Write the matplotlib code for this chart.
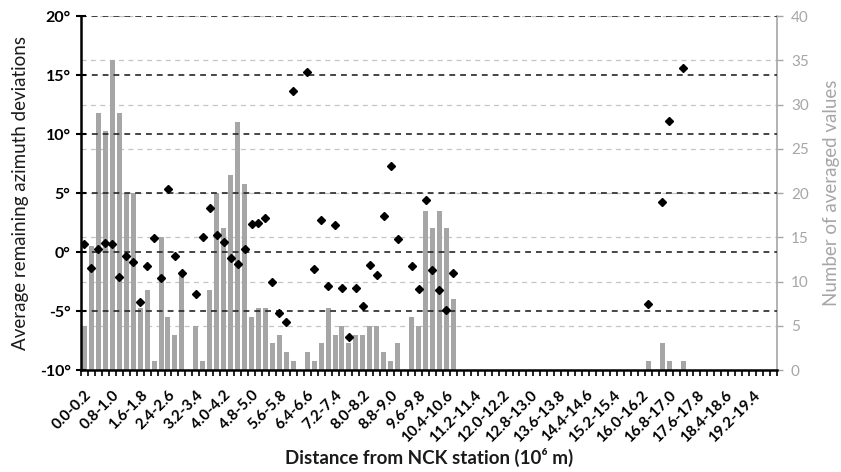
import numpy as np
import matplotlib
matplotlib.use("Agg")
import matplotlib.pyplot as plt

plt.rcParams["font.family"] = ["Lato", "DejaVu Sans"]

nan = np.nan

# 100 distance bins of 0.2 x 10^6 m, 0.0-0.2 ... 19.8-20.0
n_bins = 100

# number of averaged values per bin (right axis)
counts = [
    5, 14, 29, 27, 35, 29, 20, 20, 7, 9,
    1, 15, 6, 4, 11, 0, 5, 1, 9, 20,
    16, 22, 28, 21, 6, 7, 7, 3, 4, 2,
    1, 0, 2, 1, 3, 7, 4, 5, 3, 4,
    4, 5, 5, 2, 1, 3, 0, 6, 5, 18,
    16, 18, 16, 8, 0, 0, 0, 0, 0, 0,
    0, 0, 0, 0, 0, 0, 0, 0, 0, 0,
    0, 0, 0, 0, 0, 0, 0, 0, 0, 0,
    0, 1, 0, 3, 1, 0, 1, 0, 0, 0,
    0, 0, 0, 0, 0, 0, 0, 0, 0, 0,
]

# average remaining azimuth deviation per bin, degrees (left axis)
deviations = [
    0.65, -1.38, 0.23, 0.79, 0.65, -2.14, -0.31, -0.85, -4.24, -1.21,
    1.21, -2.23, 5.31, -0.37, -1.78, nan, -3.56, 1.30, 3.70, 1.41,
    0.85, -0.54, -1.05, 0.28, 2.40, 2.49, 2.85, -2.51, -5.14, -5.90,
    13.64, nan, 15.25, -1.47, 2.68, -2.88, 2.32, -3.08, -7.23, -3.08,
    -4.58, -1.13, -1.95, 3.08, 7.29, 1.10, nan, -1.21, -3.11, 4.38,
    -1.50, -3.22, -4.92, -1.81, nan, nan, nan, nan, nan, nan,
    nan, nan, nan, nan, nan, nan, nan, nan, nan, nan,
    nan, nan, nan, nan, nan, nan, nan, nan, nan, nan,
    nan, -4.44, nan, 4.26, 11.10, nan, 15.59, nan, nan, nan,
    nan, nan, nan, nan, nan, nan, nan, nan, nan, nan,
]

# labels shown on every 4th bin
tick_labels = [
    "0.0-0.2", "0.8-1.0", "1.6-1.8", "2.4-2.6", "3.2-3.4", "4.0-4.2",
    "4.8-5.0", "5.6-5.8", "6.4-6.6", "7.2-7.4", "8.0-8.2", "8.8-9.0",
    "9.6-9.8", "10.4-10.6", "11.2-11.4", "12.0-12.2", "12.8-13.0",
    "13.6-13.8", "14.4-14.6", "15.2-15.4", "16.0-16.2", "16.8-17.0",
    "17.6-17.8", "18.4-18.6", "19.2-19.4",
]

left_ticks = [-10, -5, 0, 5, 10, 15, 20]
right_ticks = [0, 5, 10, 15, 20, 25, 30, 35, 40]

x = np.arange(n_bins)

fig = plt.figure(figsize=(8.41, 4.72), dpi=100)
ax = fig.add_axes([0.0963, 0.2161, 0.8276, 0.75])
ax2 = ax.twinx()

# counts as grey bars on the secondary axis
for v in right_ticks[1:]:
    ax2.axhline(v, color="#c4c4c4", lw=0.9, ls=(0, (4, 3.5)), zorder=1)
ax2.bar(x, counts, width=0.72, color="#a6a6a6", zorder=2)
ax2.set_ylim(0, 40)
ax2.set_yticks(right_ticks)
ax2.tick_params(axis="y", colors="#a6a6a6", labelcolor="#a6a6a6",
                length=4, width=1, labelsize=11, pad=6)
ax2.set_ylabel("Number of averaged values", color="#a6a6a6",
               fontsize=13.5, labelpad=10)
for s in ["left", "top", "bottom"]:
    ax2.spines[s].set_visible(False)
ax2.spines["right"].set_color("#a6a6a6")
ax2.spines["right"].set_linewidth(1.2)

# deviations as black diamonds on the primary axis, drawn above the bars
ax.set_zorder(ax2.get_zorder() + 1)
ax.patch.set_visible(False)
for v in left_ticks[1:]:
    ax.axhline(v, color="#262626", lw=1.2, ls=(0, (3.5, 3)), zorder=1)
ax.plot(x, deviations, ls="none", marker="D", ms=4.4, color="black", zorder=3)
ax.set_ylim(-10, 20)
ax.set_xlim(-0.5, n_bins - 0.5)
ax.set_yticks(left_ticks)
ax.set_yticklabels([f"{v}°" for v in left_ticks], fontweight="bold")
ax.tick_params(axis="y", direction="inout", length=7, width=1.5,
               labelsize=11.5, pad=4)
ax.set_ylabel("Average remaining azimuth deviations", fontsize=13.5,
              labelpad=8, color="#1a1a1a")

ax.set_xticks(x[::4])
ax.set_xticklabels(tick_labels, rotation=45, ha="right",
                   rotation_mode="anchor", fontweight="bold")
ax.set_xticks(np.arange(-0.5, n_bins, 1), minor=True)
ax.tick_params(axis="x", which="major", length=0, labelsize=11, pad=13)
ax.tick_params(axis="x", which="minor", direction="out", length=4, width=1.2)
ax.set_xlabel("Distance from NCK station (10⁶ m)", fontsize=13.5,
              fontweight="bold", labelpad=2, color="#1a1a1a")

for s in ["top", "right"]:
    ax.spines[s].set_visible(False)
ax.spines["left"].set_linewidth(1.8)
ax.spines["bottom"].set_linewidth(1.8)

fig.savefig("out.png", dpi=100)
